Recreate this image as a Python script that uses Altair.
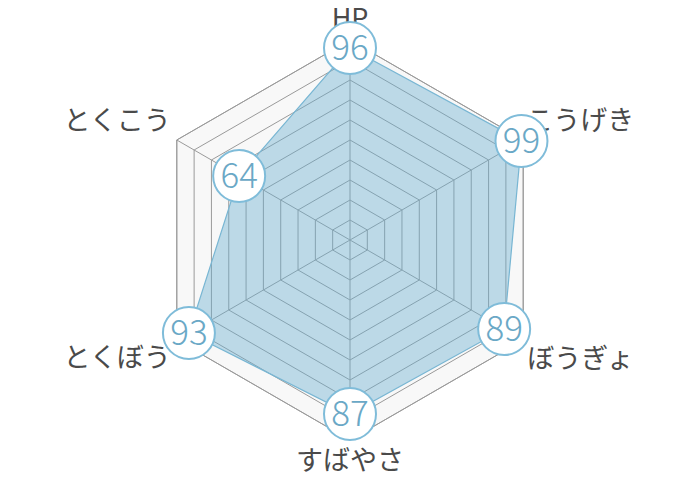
import altair as alt
import pandas as pd

# ---- data ----
categories = ["HP", "こうげき", "ぼうぎょ", "すばやさ", "とくぼう", "とくこう"]
values = [96, 99, 89, 87, 93, 64]
ring_levels = [10, 20, 30, 40, 50, 60, 70, 80, 90, 100]
max_value = 100

n = len(categories)
FONT = "Noto Sans CJK JP"

df = pd.DataFrame({"cat": categories, "value": values, "idx": list(range(n))})
grid = pd.DataFrame([{"level": lv, "idx": i} for lv in ring_levels for i in range(n)])

# plot area: 684 x 470, center placed at (342, 232) -> 2 px per unit
X = lambda f: alt.X(f, type="quantitative", scale=alt.Scale(domain=[-171, 171]), axis=None)
Y = lambda f: alt.Y(f, type="quantitative", scale=alt.Scale(domain=[-119, 116]), axis=None)


def polar(chart, rfield):
    return (
        chart.transform_calculate(ang=f"datum.idx * 2 * PI / {n}")
        .transform_calculate(x=f"datum.{rfield} * sin(datum.ang)")
        .transform_calculate(y=f"datum.{rfield} * cos(datum.ang)")
    )


# background hexagon
bg = polar(alt.Chart(grid), "level").transform_filter(f"datum.level == {max_value}").mark_line(
    interpolate="linear-closed", fill="#f8f8f8", stroke="#a0a0a0", strokeWidth=1
).encode(x=X("x"), y=Y("y"), order=alt.Order("idx:Q"))

# grid rings
rings = polar(alt.Chart(grid), "level").mark_line(
    interpolate="linear-closed", stroke="#9a9a9a", strokeWidth=1
).encode(x=X("x"), y=Y("y"), detail="level:N", order=alt.Order("idx:Q"))

# spokes
spokes = (
    alt.Chart(df)
    .transform_calculate(ang=f"datum.idx * 2 * PI / {n}")
    .transform_calculate(vx=f"{max_value} * sin(datum.ang)", vy=f"{max_value} * cos(datum.ang)", zero="0")
    .mark_rule(stroke="#9a9a9a", strokeWidth=1)
    .encode(x=X("zero"), y=Y("zero"), x2="vx:Q", y2="vy:Q")
)

# data polygon
poly = polar(alt.Chart(df), "value").mark_line(
    interpolate="linear-closed", fill="#6aaed0", fillOpacity=0.42,
    stroke="#78b6d3", strokeWidth=1.2
).encode(x=X("x"), y=Y("y"), order=alt.Order("idx:Q"))

# value bubbles
bubbles = polar(alt.Chart(df), "value").mark_point(
    shape="circle", filled=True, fill="white", stroke="#7fbcd9", strokeWidth=2,
    size=2704, opacity=1, fillOpacity=1, strokeOpacity=1
).encode(x=X("x"), y=Y("y"))

value_text = polar(alt.Chart(df), "value").mark_text(
    font=FONT, fontSize=35, fontWeight=300, color="#6aa8c6", align="center", baseline="middle", dy=1
).encode(x=X("x"), y=Y("y"), text="value:Q")

# category labels (per-vertex alignment / offset)
label_styles = [
    ("center", 0, -20),
    ("left", 3, -18),
    ("left", 4, 20),
    ("center", 0, 22),
    ("right", -6, 19),
    ("right", -6, -18),
]
label_layers = []
for i, (al, dx, dy) in enumerate(label_styles):
    label_layers.append(
        alt.Chart(df)
        .transform_filter(f"datum.idx == {i}")
        .transform_calculate(ang=f"datum.idx * 2 * PI / {n}")
        .transform_calculate(lx=f"{max_value} * sin(datum.ang)", ly=f"{max_value} * cos(datum.ang)")
        .mark_text(font=FONT, fontSize=27, fontWeight=400, color="#4a4a4a", align=al,
                   baseline="middle", dx=dx, dy=dy)
        .encode(x=X("lx"), y=Y("ly"), text="cat:N")
    )

chart = (
    alt.layer(bg, rings, spokes, poly, *label_layers, bubbles, value_text)
    .properties(width=684, height=470, padding=0, autosize=alt.AutoSizeParams(type="none"),
                background="white")
    .configure_view(stroke=None)
)

chart.save("out.html", embed_options={"renderer": "svg", "actions": False})
